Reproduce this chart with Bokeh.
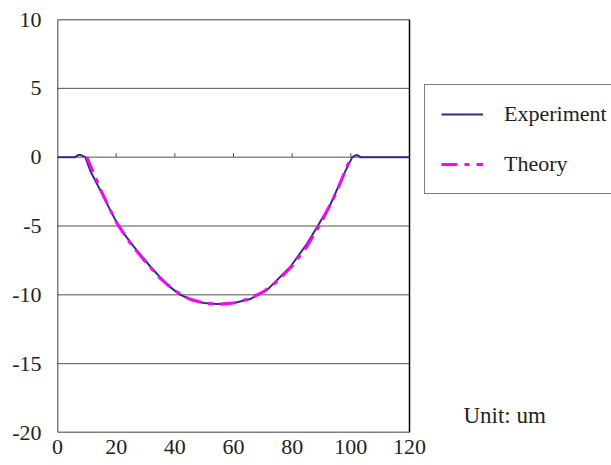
from bokeh.plotting import figure
from bokeh.models import Legend, LegendItem, Label, FixedTicker, Range1d
from bokeh.embed import file_html
from bokeh.resources import INLINE

# Data (x in um, depth in um)
exp_x = [0, 6, 7, 8, 9.5, 11.2, 14.7, 18.1, 21.2, 26, 31.7, 37.4, 41.9, 46.5, 50,
         54.4, 60.1, 65.8, 71.5, 79.4, 85.1, 88.5, 93.1, 97.6, 100.5, 101.5, 102.2, 103.3, 120]
exp_y = [0, 0, 0.15, 0.15, 0, -1.0, -2.45, -3.9, -5.15, -6.5, -7.96, -9.28, -10.0, -10.43, -10.6,
         -10.67, -10.6, -10.3, -9.64, -7.96, -6.28, -5.08, -3.4, -1.25, 0, 0.12, 0.15, 0, 0]

theo_x = [10, 15, 20, 25, 30, 35, 40, 45, 50, 55, 60, 65, 70, 75, 80, 85, 90, 95, 100]
theo_y = [0, -2.5, -4.7, -6.3, -7.6, -8.8, -9.7, -10.3, -10.6, -10.7, -10.6, -10.3, -9.8,
          -9.0, -7.9, -6.5, -4.7, -2.6, 0]

x_ticks = [0, 20, 40, 60, 80, 100, 120]
y_ticks = [-20, -15, -10, -5, 0, 5, 10]
zero_ticks = [20, 40, 60, 80, 100]

FONT = "Liberation Serif"
TEXT_COLOR = "#222222"
GRID_COLOR = "#505050"
EXP_COLOR = "#2E2E88"
THEO_COLOR = "#FF00FF"
THEO_DASH = "16 7 5 7"

x0, x1 = x_ticks[0], x_ticks[-1]
y0, y1 = y_ticks[0], y_ticks[-1]
PLOT_W = 352                      # pixel width of the boxed plot area
FRAME_W = 554                     # frame extends right to hold legend and note
x_end = x0 + (x1 - x0) * FRAME_W / PLOT_W

p = figure(width=611, height=465, frame_width=FRAME_W, frame_height=413,
           min_border_left=57, min_border_right=0, min_border_top=19, min_border_bottom=33,
           x_range=Range1d(x0, x_end), y_range=Range1d(y0, y1),
           output_backend="svg", toolbar_location=None, tools="")

p.outline_line_color = None
p.background_fill_color = "white"
p.border_fill_color = "white"
p.grid.grid_line_color = None

p.xaxis.ticker = FixedTicker(ticks=x_ticks)
p.yaxis.ticker = FixedTicker(ticks=y_ticks)
p.yaxis.major_label_overrides = {t: str(t) for t in y_ticks}
p.xaxis.major_label_overrides = {t: str(t) for t in x_ticks}
for ax in (p.xaxis[0], p.yaxis[0]):
    ax.axis_line_color = None
    ax.major_tick_line_color = None
    ax.minor_tick_line_color = None
    ax.major_tick_out = 0
    ax.major_tick_in = 0
    ax.major_label_text_font = FONT
    ax.major_label_text_font_size = "22px"
    ax.major_label_text_color = TEXT_COLOR
p.yaxis.major_label_standoff = 16
p.xaxis.major_label_standoff = 7

# horizontal grid lines inside the plot box
inner = y_ticks[1:-1]
p.segment(x0=[x0] * len(inner), y0=inner, x1=[x1] * len(inner), y1=inner,
          line_color=GRID_COLOR, line_width=1)

# plot-area box
p.quad(left=[x0], right=[x1], bottom=[y0], top=[y1], fill_color=None,
       line_color="black", line_width=1.5)

# tick marks on the zero line
p.segment(x0=zero_ticks, y0=[0] * len(zero_ticks), x1=zero_ticks, y1=[0.3] * len(zero_ticks),
          line_color=GRID_COLOR, line_width=1)

r_exp = p.line(exp_x, exp_y, line_color=EXP_COLOR, line_width=2)
r_theo = p.line(theo_x, theo_y, line_color=THEO_COLOR, line_width=3, line_dash=THEO_DASH)

legend = Legend(items=[LegendItem(label="Experiment", renderers=[r_exp]),
                       LegendItem(label="Theory", renderers=[r_theo])],
                location=(367, 238))
legend.label_text_font = FONT
legend.label_text_font_size = "22px"
legend.label_text_color = TEXT_COLOR
legend.glyph_width = 42
legend.glyph_height = 26
legend.label_height = 26
legend.label_standoff = 21
legend.padding = 16
legend.spacing = 24
legend.border_line_color = "black"
legend.border_line_width = 1.5
legend.background_fill_alpha = 1
legend.margin = 0
p.add_layout(legend)

p.add_layout(Label(x=138.4, y=-18.77, text="Unit: um", text_font=FONT,
                   text_font_size="23px", text_color=TEXT_COLOR, text_baseline="alphabetic"))

open("out.html", "w").write(file_html(p, INLINE))
